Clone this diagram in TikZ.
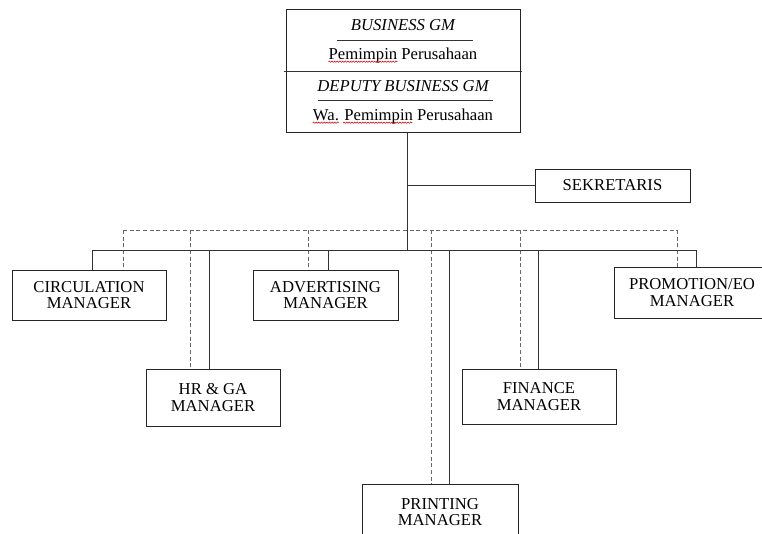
\documentclass[tikz,border=0pt]{standalone}
\usepackage{fontspec}
\setmainfont{Liberation Serif}
\usepackage{xcolor}
\usetikzlibrary{decorations.pathmorphing}

\begin{document}
\begin{tikzpicture}[x=0.75pt,y=-0.75pt,
            box/.style={draw=black!85,line width=0.75pt,align=center,inner sep=0pt,font=\fontsize{12.5}{12.5}\selectfont},
            txt/.style={inner sep=0pt,font=\fontsize{12.5}{12.5}\selectfont},
            conn/.style={draw=black!80,line width=0.75pt},
            dconn/.style={draw=black!60,line width=0.75pt,dash pattern=on 3pt off 2pt},
            squig/.style={draw=red!85!black,line width=0.4pt,decorate,decoration={snake,amplitude=0.5pt,segment length=2pt}}]
            \useasboundingbox (0,0) rectangle (762,533);
            \clip (0,0) rectangle (762,533);
            \node (gm) at (403,70.5) [box,minimum width=175.5pt,minimum height=92.25pt] {};
            \node (gmtitle) at (403,25) [txt] {\itshape BUSINESS GM};
            \node (gmname) at (403,55) [txt] {Pemimpin Perusahaan};
            \node (dgmtitle) at (403,86) [txt] {\itshape DEPUTY BUSINESS GM};
            \node (dgmname) at (403,116) [txt] {Wa. Pemimpin Perusahaan};
            \node (wa) at (dgmname.base west) [txt,anchor=base west] {\phantom{Wa.}};
            \node (pem1) at (gmname.base west) [txt,anchor=base west] {\phantom{Pemimpin}};
            \node (pem2) at (wa.base east) [txt,anchor=base west] {\phantom{\ Pemimpin}};
            \draw[squig] ([yshift=-2pt]pem1.base west) -- ([yshift=-2pt]pem1.base east);
            \draw[squig] ([yshift=-2pt]wa.base west) -- ([yshift=-2pt]wa.base east);
            \draw[squig] ([xshift=3pt,yshift=-2pt]pem2.base west) -- ([yshift=-2pt]pem2.base east);
            \draw[conn] (284,71) -- (522,71);
            \draw[conn] (337,40) -- (473,40) (318,100) -- (493,100);
            \node (sek) at (612.5,185.5) [box,minimum width=116.25pt,minimum height=24.75pt] {SEKRETARIS};
            \node (circ) at (89,295) [box,minimum width=115.5pt,minimum height=37.5pt] {CIRCULATION\\MANAGER};
            \node (adv) at (325.5,295) [box,minimum width=108.75pt,minimum height=37.5pt] {ADVERTISING\\MANAGER};
            \node (promo) at (692,292.5) [box,minimum width=117pt,minimum height=38.25pt] {PROMOTION/EO\\MANAGER};
            \node (hr) at (213,397.5) [box,minimum width=100.5pt,minimum height=42.75pt] {HR \& GA\\MANAGER};
            \node (fin) at (539,396.5) [box,minimum width=115.5pt,minimum height=41.25pt] {FINANCE\\MANAGER};
            \node (print) at (440,512) [box,minimum width=117pt,minimum height=42pt] {PRINTING\\MANAGER};
            \coordinate (trunk) at (407,250);
            \draw[conn] (trunk |- gm.south) -- (trunk);
            \draw[conn] (trunk |- sek.west) -- (sek.west);
            \foreach \n/\xs/\xd in {circ/92/123, hr/209/190, adv/328/308, print/449/431, fin/538/520, promo/696/677} {
                \coordinate (s\n) at (\xs,250);
                \coordinate (d\n) at (\xd,230);
                \draw[conn] (s\n) -- (s\n |- \n.north);
                \draw[dconn] (d\n) -- (d\n |- \n.north);
            }
            \draw[conn] (scirc) -- (spromo);
            \draw[dconn] (dcirc) -- (dpromo);
        \end{tikzpicture}
\end{document}
